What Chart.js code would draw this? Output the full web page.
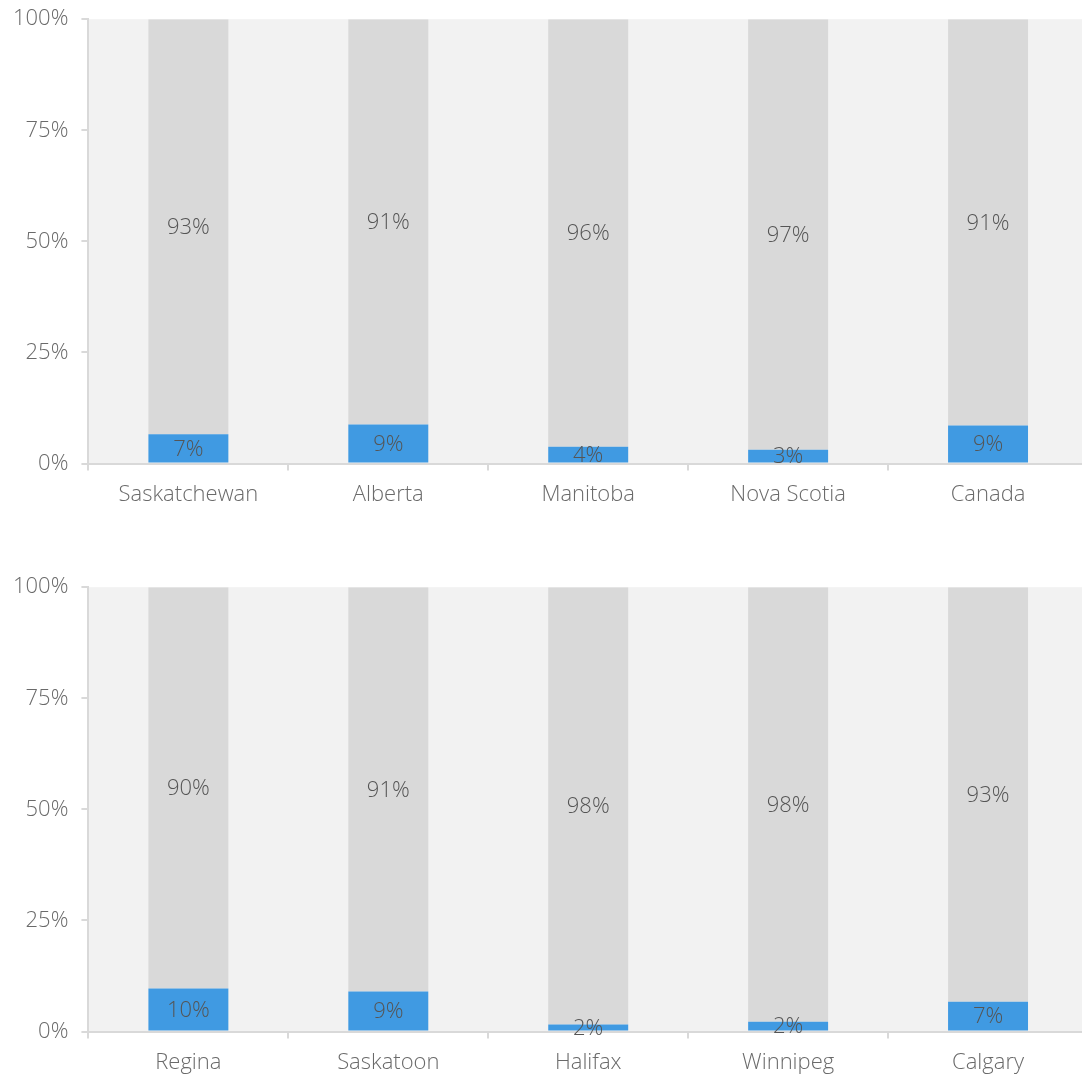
<!DOCTYPE html>
<html>
<head>
<meta charset="utf-8">
<script src="https://cdn.jsdelivr.net/npm/chart.js@4"></script>
<style>
  body { margin: 0; background: #fff; overflow: hidden; }
  .box { position: absolute; left: 0; width: 1088px; }
  #b1 { top: -7px; height: 526px; }
  #b2 { top: 561px; height: 526px; }
</style>
</head>
<body>
<div class="box" id="b1"><canvas id="c1"></canvas></div>
<div class="box" id="b2"><canvas id="c2"></canvas></div>
<script>
// provinces
const provinces = ['Saskatchewan', 'Alberta', 'Manitoba', 'Nova Scotia', 'Canada'];
const provBlue = [6.6, 8.8, 3.8, 3.1, 8.6];
const provGray = [93.4, 91.2, 96.2, 96.9, 91.4];
// cities
const cities = ['Regina', 'Saskatoon', 'Halifax', 'Winnipeg', 'Calgary'];
const cityBlue = [9.7, 9.0, 1.6, 2.2, 6.7];
const cityGray = [90.3, 91.0, 98.4, 97.8, 93.3];
const yTicks = [0, 25, 50, 75, 100];

const FONT = '"Open Sans"';

const areaBg = {
  id: 'areaBg',
  beforeDraw(chart) {
    const a = chart.chartArea, ctx = chart.ctx;
    ctx.save();
    ctx.fillStyle = '#f2f2f2';
    ctx.fillRect(a.left, a.top, a.right - a.left, a.bottom - a.top);
    ctx.restore();
  }
};

const segLabels = {
  id: 'segLabels',
  afterDatasetsDraw(chart) {
    const ctx = chart.ctx;
    ctx.save();
    ctx.font = '300 22px ' + FONT;
    ctx.fillStyle = '#555555';
    ctx.textAlign = 'center';
    ctx.textBaseline = 'middle';
    chart.data.datasets.forEach((ds, i) => {
      chart.getDatasetMeta(i).data.forEach((bar, j) => {
        const p = bar.getProps(['x', 'y', 'base'], true);
        ctx.fillText(Math.round(ds.data[j]) + '%', p.x, (p.y + p.base) / 2 + 1);
      });
    });
    ctx.restore();
  }
};

function makeChart(id, labels, blue, gray) {
  return new Chart(document.getElementById(id), {
    type: 'bar',
    data: {
      labels: labels,
      datasets: [
        { data: blue, backgroundColor: '#409ae2', barPercentage: 0.4, categoryPercentage: 1 },
        { data: gray, backgroundColor: '#d9d9d9', barPercentage: 0.4, categoryPercentage: 1 }
      ]
    },
    plugins: [areaBg, segLabels],
    options: {
      responsive: true,
      maintainAspectRatio: false,
      animation: false,
      layout: { padding: { top: 6, right: 0, left: 0, bottom: 0 } },
      plugins: { legend: { display: false }, tooltip: { enabled: false } },
      scales: {
        x: {
          stacked: true,
          border: { color: '#d9d9d9', width: 2 },
          grid: { offset: true, drawOnChartArea: false, color: '#d9d9d9', tickLength: 7, lineWidth: 2 },
          ticks: { color: '#6a6a6a', font: { family: FONT, size: 22, weight: 300 }, padding: 11 }
        },
        y: {
          stacked: true,
          min: 0, max: 100,
          afterBuildTicks(axis) { axis.ticks = yTicks.map(v => ({ value: v })); },
          border: { color: '#d9d9d9', width: 2 },
          grid: { drawOnChartArea: false, color: '#d9d9d9', tickLength: 7, lineWidth: 2 },
          ticks: { color: '#6a6a6a', font: { family: FONT, size: 22, weight: 300 }, padding: 13,
                   callback: v => v + '%' }
        }
      }
    }
  });
}

makeChart('c1', provinces, provBlue, provGray);
makeChart('c2', cities, cityBlue, cityGray);
</script>
</body>
</html>
